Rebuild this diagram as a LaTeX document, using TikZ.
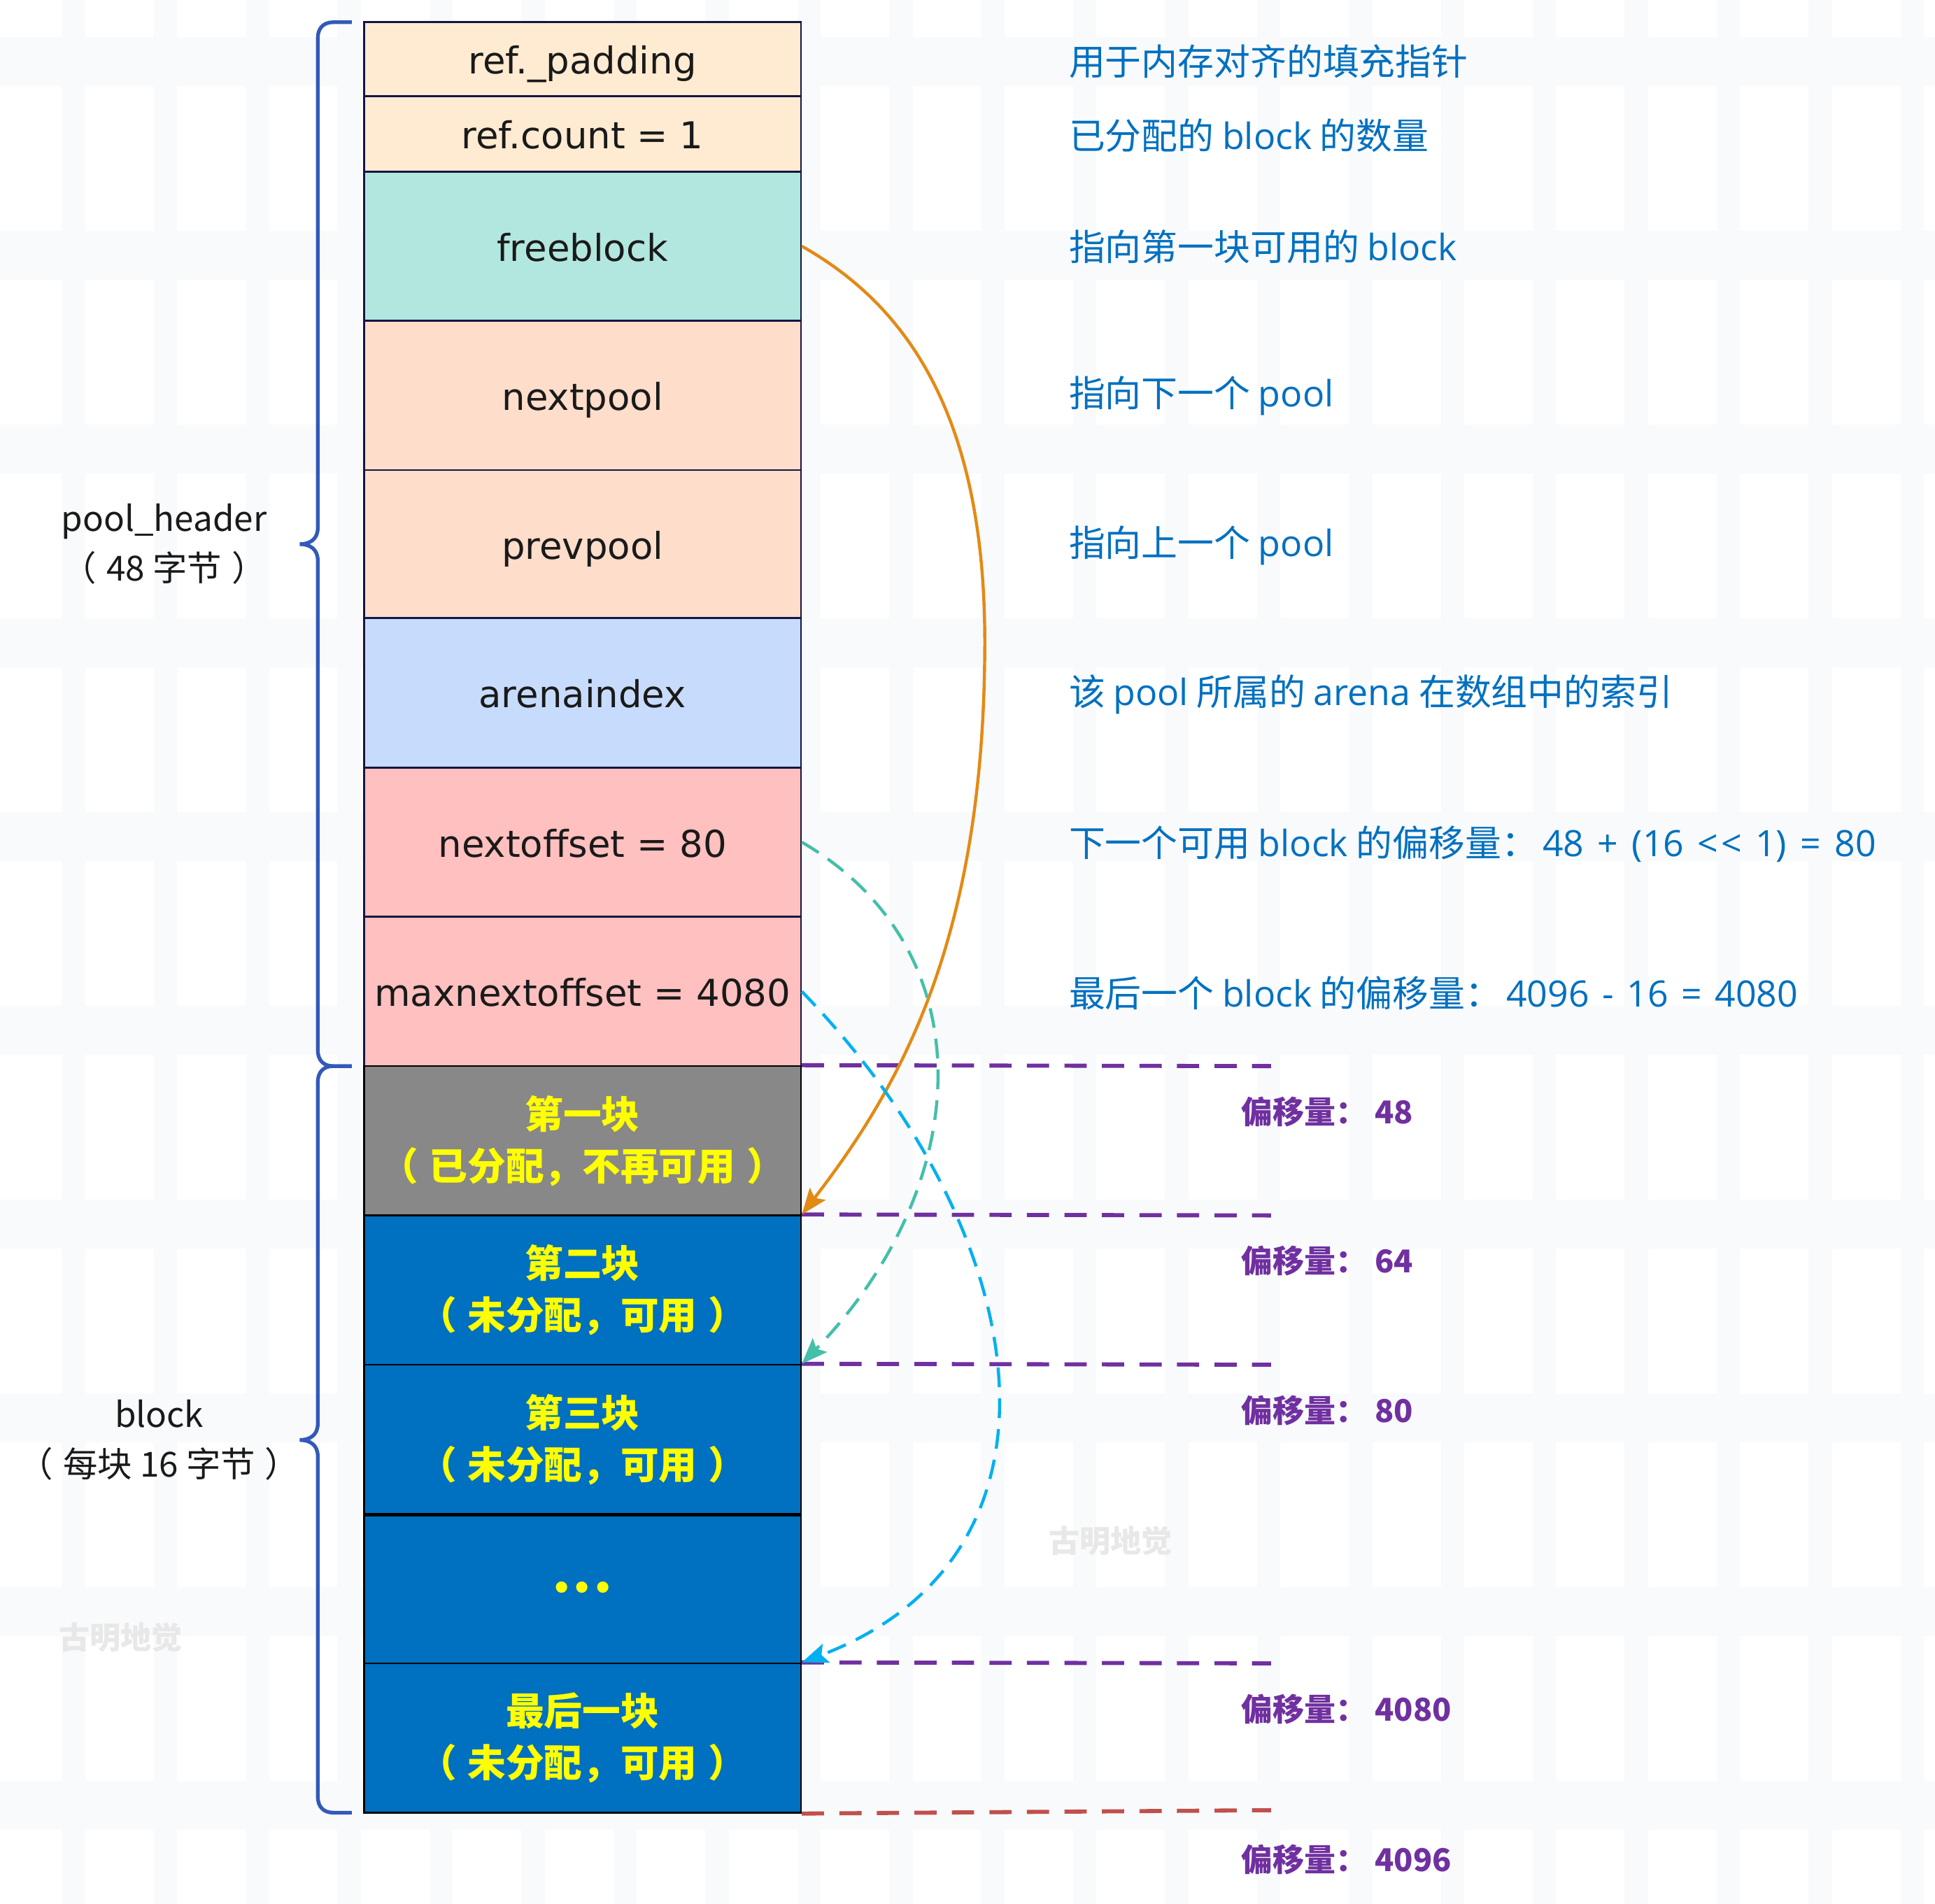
\documentclass[tikz,border=0pt]{standalone}
\usepackage{fontspec}
\setmainfont{Noto Sans CJK SC}
\newfontfamily\cellfont{DejaVu Sans}
\newfontfamily\dotfont{DejaVu Sans}
\newfontfamily\lat{Open Sans}
\usetikzlibrary{arrows.meta}
\definecolor{bandc}{HTML}{F8FAFB}
\definecolor{creamc}{HTML}{FFEBD2}
\definecolor{mintc}{HTML}{B2E7DF}
\definecolor{peachc}{HTML}{FFDDCB}
\definecolor{lbluec}{HTML}{C7DCFC}
\definecolor{pinkc}{HTML}{FFC0BF}
\definecolor{grayc}{HTML}{888888}
\definecolor{bluec}{HTML}{0070C0}
\definecolor{yellowc}{HTML}{FFFF00}
\definecolor{navyc}{HTML}{141642}
\definecolor{txtblue}{HTML}{0070C0}
\definecolor{purplec}{HTML}{7030A0}
\definecolor{redc}{HTML}{C0504D}
\definecolor{bracec}{HTML}{3259BA}
\definecolor{orangec}{HTML}{E38A15}
\definecolor{tealc}{HTML}{44BFA9}
\definecolor{cyanc}{HTML}{00B0F0}
\definecolor{inkc}{HTML}{1A1A1A}
\definecolor{wmc}{HTML}{E8E8E8}
\begin{document}
\begin{tikzpicture}[x=1pt,y=-1pt,
  cell/.style={draw=navyc, line width=1.5pt, minimum width=354pt, inner sep=0pt,
    text height=24pt, text depth=0pt,
    text=inkc, font=\cellfont\fontsize{30}{36}\selectfont},
  blk/.style={draw=black, line width=1.5pt, minimum width=354pt, inner sep=0pt,
    text=yellowc, align=center, font=\bfseries\fontsize{31}{42}\selectfont},
  desc/.style={anchor=west, inner sep=0pt, text=txtblue, font=\fontsize{29.4}{34}\selectfont},
  offl/.style={anchor=west, inner sep=0pt, text=purplec, font=\bfseries\fontsize{25.5}{30}\selectfont},
  side/.style={align=center, inner sep=0pt, text=inkc, font=\fontsize{28}{40}\selectfont},
  wm/.style={inner sep=0pt, text=wmc, font=\bfseries\fontsize{25}{30}\selectfont},
  brace/.style={draw=bracec, line width=3pt},
  offline/.style={draw=purplec, line width=3.3pt, dash pattern=on 18pt off 12.4pt},
  offred/.style={draw=redc, line width=3.3pt, dash pattern=on 18pt off 12.4pt},
  tipc/.style={-{Stealth[length=21pt,width=16pt,inset=4pt]}},
  oarrow/.style={tipc, draw=orangec, line width=2.5pt},
  tarrow/.style={tipc, draw=tealc, line width=2.5pt, dash pattern=on 16pt off 9pt},
  carrow/.style={tipc, draw=cyanc, line width=2.5pt, dash pattern=on 16pt off 9pt}]
\useasboundingbox (0,0) rectangle (1568,1543);
\fill[white] (0,0) rectangle (1568,1543);
% background bands
\foreach \y in {30,187,344,501,658,815,972,1129,1286,1443}
  \fill[bandc] (0,\y) rectangle (1568,\y+40);
\foreach \i in {0,...,20}
  \fill[bandc] ({50+74.5*\i},0) rectangle ({69+74.5*\i},1543);

% stack
\node[cell, fill=creamc, minimum height=60pt] (pad) at (472,48) {ref.\_padding};
\node[cell, fill=creamc, minimum height=61pt] (cnt) at (472,108.5) {ref.count = 1};
\node[cell, fill=mintc, minimum height=121pt] (free) at (472,199.5) {freeblock};
\node[cell, fill=peachc, minimum height=121pt] (nextp) at (472,320.5) {nextpool};
\node[cell, fill=peachc, minimum height=120pt] (prevp) at (472,441) {prevpool};
\node[cell, fill=lbluec, minimum height=121pt] (arena) at (472,561.5) {arenaindex};
\node[cell, fill=pinkc, minimum height=121pt] (noff) at (472,682.5) {nextoffset = 80};
\node[cell, fill=pinkc, minimum height=121pt] (maxoff) at (472,803.5) {maxnextoffset = 4080};
\node[blk, fill=grayc, minimum height=121pt] (b1) at (472,924.5) {第一块\\（\kern9pt 已分配，不再可用\kern9pt ）};
\node[blk, fill=bluec, minimum height=121pt] (b2) at (472,1045.5) {第二块\\（\kern9pt 未分配，可用\kern9pt ）};
\node[blk, fill=bluec, minimum height=121pt] (b3) at (472,1166.5) {第三块\\（\kern9pt 未分配，可用\kern9pt ）};
\node[blk, fill=bluec, minimum height=121pt, font=\dotfont\bfseries\fontsize{26}{30}\selectfont] (bdots) at (472,1289) {•••};
\node[blk, fill=bluec, minimum height=121pt] (blast) at (472,1408.5) {最后一块\\（\kern9pt 未分配，可用\kern9pt ）};

% descriptions
\node[desc] (d1) at (866,50) {用于内存对齐的填充指针};
\node[desc] (d2) at (866,110) {已分配的 {\lat block} 的数量};
\node[desc] (d3) at (866,200) {指向第一块可用的 {\lat block}};
\node[desc] (d4) at (866,321) {指向下一个 {\lat pool}};
\node[desc] (d5) at (866,442) {指向上一个 {\lat pool}};
\node[desc] (d6) at (866,563) {该 {\lat pool} 所属的 {\lat arena} 在数组中的索引};
\node[desc] (d7) at (866,684) {下一个可用 {\lat block} 的偏移量：\kern4pt {\lat\spaceskip=11pt 48 + (16 <\kern2pt< 1) = 80}};
\node[desc] (d8) at (866,805) {最后一个 {\lat block} 的偏移量：\kern4pt {\lat\spaceskip=10.5pt 4096 - 16 = 4080}};

% offset lines
\coordinate (e1) at (1030,864);
\coordinate (e2) at (1030,985);
\coordinate (e3) at (1030,1106);
\coordinate (e4) at (1030,1348);
\coordinate (e5) at (1030,1467);
\draw[offline] (b1.north east) -- (e1);
\draw[offline] (b2.north east) -- (e2);
\draw[offline] (b3.north east) -- (e3);
\draw[offline] (blast.north east) -- (e4);
\draw[offred] (blast.south east) -- (e5);

\node[offl] (o1) at (1006,901) {偏移量： 48};
\node[offl] (o2) at (1006,1022) {偏移量： 64};
\node[offl] (o3) at (1006,1143) {偏移量： 80};
\node[offl] (o4) at (1006,1385) {偏移量： 4080};
\node[offl] (o5) at (1006,1507) {偏移量： 4096};

% braces
\draw[brace] (285,18) -- (270,18) .. controls (262,18) and (257.5,23) .. (257.5,31)
  -- (257.5,428) .. controls (257.5,437) and (251,441) .. (243,441)
  .. controls (251,441) and (257.5,445) .. (257.5,454)
  -- (257.5,851) .. controls (257.5,859) and (262,864) .. (270,864) -- (285,864);
\draw[brace] (285,864) -- (270,864) .. controls (262,864) and (257.5,869) .. (257.5,877)
  -- (257.5,1154) .. controls (257.5,1163) and (251,1167) .. (243,1167)
  .. controls (251,1167) and (257.5,1171) .. (257.5,1180)
  -- (257.5,1456) .. controls (257.5,1464) and (262,1469) .. (270,1469) -- (285,1469);

\node[side] (ph) at (133,441) {pool\_header\\（\kern8pt 48 字节\kern8pt ）};
\node[side] (bk) at (129,1167) {block\\（\kern8pt 每块 16 字节\kern8pt ）};

% watermarks
\node[wm] (w1) at (98,1327) {古明地觉};
\node[wm] (w2) at (900,1249) {古明地觉};

% arrows
\draw[oarrow] (free.east) .. controls (730,245) and (798,330) .. (798,520)
  .. controls (798,760) and (730,880) .. (b2.north east);
\draw[tarrow] (noff.east) .. controls (800,770) and (790,960) .. (b3.north east);
\draw[carrow] (maxoff.east) .. controls (840,1000) and (880,1260) .. (blast.north east);
\end{tikzpicture}
\end{document}
